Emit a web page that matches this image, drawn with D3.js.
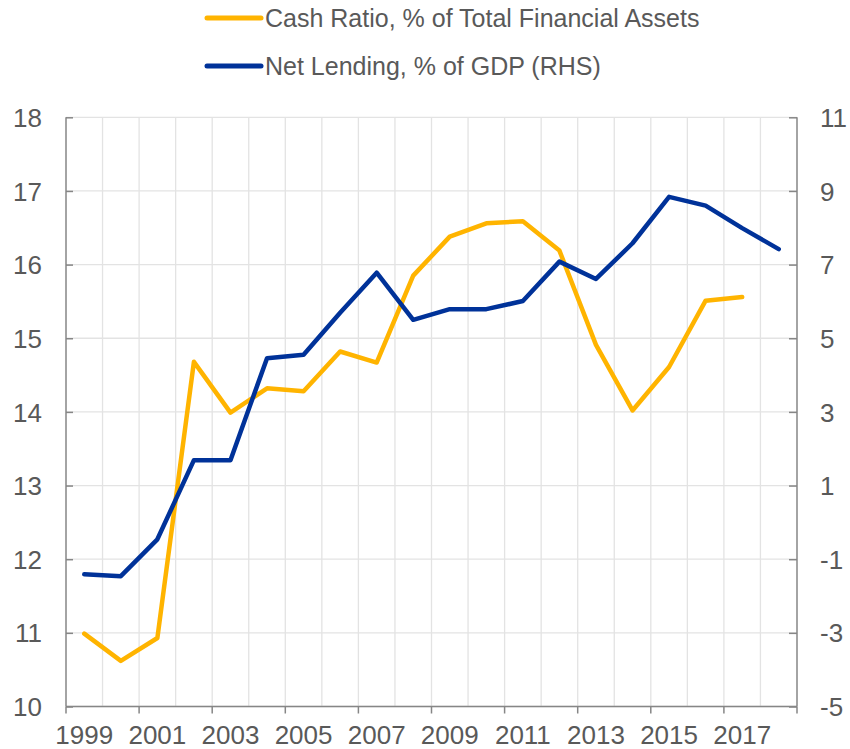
<!DOCTYPE html>
<html><head><meta charset="utf-8">
<script src="https://cdn.jsdelivr.net/npm/d3@7"></script>
<style>html,body{margin:0;padding:0;background:#fff;}svg{display:block;font-family:"Liberation Sans",Arial,sans-serif;}</style>
</head><body>
<svg id="c" width="850" height="749"></svg>
<script>
const years = [1999,2000,2001,2002,2003,2004,2005,2006,2007,2008,2009,2010,2011,2012,2013,2014,2015,2016,2017,2018];
const cashRatio = [10.99,10.62,10.93,14.68,13.99,14.32,14.28,14.82,14.67,15.85,16.38,16.56,16.59,16.19,14.91,14.02,14.61,15.51,15.56,null];
const netLending = [-1.41,-1.46,-0.46,1.69,1.69,4.46,4.55,5.69,6.78,5.50,5.79,5.79,6.01,7.08,6.61,7.58,8.84,8.60,7.99,7.42];
const leftTicks = [10,11,12,13,14,15,16,17,18];
const rightTicks = [-5,-3,-1,1,3,5,7,9,11];
const xLabelYears = [1999,2001,2003,2005,2007,2009,2011,2013,2015,2017];
const seriesNames = ["Cash Ratio, % of Total Financial Assets","Net Lending, % of GDP (RHS)"];
const colors = ["#FFB400","#003299"];

const svg = d3.select("#c");
const L = 66, R = 797, T = 117.3, B = 706.5;
const x = d3.scaleBand().domain(years).range([L,R]).padding(0);
const yL = d3.scaleLinear().domain([10,18]).range([B,T]);
const yR = d3.scaleLinear().domain([-5,11]).range([B,T]);
const axisCol = "#868686", gridCol = "#e3e3e3", textCol = "#595959";
const fmt = d => String(d);

// grid
const g = svg.append("g");
g.selectAll("line.h").data(leftTicks).join("line")
  .attr("x1",L).attr("x2",R).attr("y1",d=>yL(d)).attr("y2",d=>yL(d))
  .attr("stroke",gridCol).attr("stroke-width",1.3);
const bounds = years.map(y=>x(y)).concat([R]);
g.selectAll("line.v").data(bounds.slice(1,-1)).join("line")
  .attr("x1",d=>d).attr("x2",d=>d).attr("y1",T).attr("y2",B)
  .attr("stroke",gridCol).attr("stroke-width",1.3);

// axes
const leftAxis = svg.append("g").attr("transform",`translate(${L},0)`)
  .call(d3.axisLeft(yL).tickValues(leftTicks).tickSize(-7).tickPadding(24).tickFormat(fmt));
const rightAxis = svg.append("g").attr("transform",`translate(${R},0)`)
  .call(d3.axisRight(yR).tickValues(rightTicks).tickSize(-8).tickPadding(23).tickFormat(fmt));
const bottomAxis = svg.append("g").attr("transform",`translate(0,${B})`)
  .call(d3.axisBottom(x).tickValues(xLabelYears).tickSize(0).tickPadding(19).tickFormat(fmt));
// bottom tick marks at band boundaries every 2 years
const btick = bounds.filter((d,i)=>i%2===0);
svg.append("g").selectAll("line").data(btick).join("line")
  .attr("x1",d=>d).attr("x2",d=>d).attr("y1",B).attr("y2",B+7)
  .attr("stroke",axisCol).attr("stroke-width",1.5);

[leftAxis,rightAxis,bottomAxis].forEach(a=>{
  a.select(".domain").attr("stroke",axisCol).attr("stroke-width",1.5);
  a.selectAll(".tick line").attr("stroke",axisCol).attr("stroke-width",1.5);
  a.selectAll("text").attr("fill",textCol).style("font-size","26px").style("font-family","'Liberation Sans',Arial,sans-serif");
});
bottomAxis.select(".domain").attr("d",`M${L},0H${R}`);
leftAxis.select(".domain").attr("d",`M0,${B}V${T}`);
rightAxis.select(".domain").attr("d",`M0,${B}V${T}`);
leftAxis.selectAll("text").attr("dy","0.35em");
rightAxis.selectAll("text").attr("dy","0.35em");

// lines
const cx = d=>x(d)+x.bandwidth()/2;
const lineL = d3.line().defined(d=>d[1]!=null).x(d=>cx(d[0])).y(d=>yL(d[1]));
const lineR = d3.line().defined(d=>d[1]!=null).x(d=>cx(d[0])).y(d=>yR(d[1]));
svg.append("path").datum(years.map((y,i)=>[y,cashRatio[i]]))
  .attr("d",lineL).attr("fill","none").attr("stroke",colors[0]).attr("stroke-width",4.5).attr("stroke-linejoin","round").attr("stroke-linecap","round");
svg.append("path").datum(years.map((y,i)=>[y,netLending[i]]))
  .attr("d",lineR).attr("fill","none").attr("stroke",colors[1]).attr("stroke-width",4.5).attr("stroke-linejoin","round").attr("stroke-linecap","round");

// legend
const leg = svg.append("g");
seriesNames.forEach((n,i)=>{
  const yy = 18 + i*48;
  leg.append("line").attr("x1",207).attr("x2",261).attr("y1",yy).attr("y2",yy)
    .attr("stroke",colors[i]).attr("stroke-width",5).attr("stroke-linecap","round");
  leg.append("text").attr("x",265).attr("y",yy).attr("dy","0.36em")
    .attr("fill",textCol).style("font-size","25px").text(n);
});
</script>
</body></html>
